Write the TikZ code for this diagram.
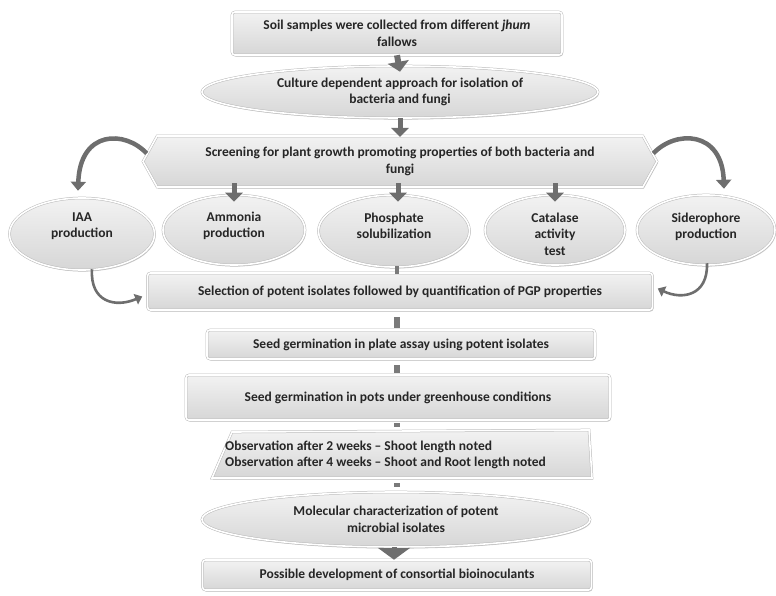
\documentclass[tikz,border=0pt]{standalone}
\usepackage{fontspec}
\setmainfont{Carlito}
\usetikzlibrary{shapes.geometric,shapes.symbols,arrows.meta,shadows}
\definecolor{arr}{HTML}{6E6E6E}
\definecolor{stubc}{HTML}{7A7A7A}
\definecolor{txt}{HTML}{262626}
\begin{document}
\begin{tikzpicture}[x=1pt,y=-1pt,
  every node/.style={font=\bfseries\fontsize{13.5}{16.5}\selectfont, text=txt, align=center, inner sep=0pt},
  shade/.style={top color=gray!10, bottom color=gray!32, draw=gray!55, double=white, double distance=1.6pt, line width=0.5pt,
    drop shadow={shadow xshift=1pt, shadow yshift=-1.6pt, fill=gray!55, opacity=0.7}},
  boxst/.style={shade, rectangle, rounded corners=3pt},
  ellst/.style={shade, ellipse},
  bigarr/.style={draw=arr, line width=6pt, -{Triangle[length=10pt,width=21pt]}},
  smallarr/.style={draw=arr, line width=5pt, -{Triangle[length=9pt,width=17pt]}},
  curvarr/.style={draw=arr, line width=4.5pt, -{Triangle[length=9pt,width=15pt]}},
  curvarrb/.style={draw=arr, line width=2.6pt, -{Triangle[length=7pt,width=11pt]}},
  stub/.style={draw=stubc, line width=6pt}]
\useasboundingbox (0,0) rectangle (776,596);

% top part
\node[boxst, minimum width=330pt, minimum height=43pt] (soil) at (397,33.5)
  {Soil samples were collected from different \textit{jhum}\\fallows};
\node[ellst, minimum width=396pt, minimum height=52pt] (culture) at (400,92)
  {Culture dependent approach for isolation of\\bacteria and fungi};
\node[shade, signal, signal to=west and east, signal pointer angle=122,
  minimum width=514pt, minimum height=51pt] (screen) at (400,161.5)
  {Screening for plant growth promoting properties of both bacteria and\\fungi};

% ellipses row
\node[ellst, minimum width=145pt, minimum height=72pt] (iaa) at (82,234) {};
\node (iaat) at ([yshift=8pt]iaa.center) {IAA\\production};
\node[ellst, minimum width=142pt, minimum height=70pt] (ammonia) at (234,230) {};
\node (ammoniat) at ([yshift=4pt]ammonia.center) {Ammonia\\production};
\node[ellst, minimum width=151pt, minimum height=72pt] (phos) at (394,231) {};
\node (phost) at ([yshift=5pt]phos.center) {Phosphate\\solubilization};
\node[ellst, minimum width=140pt, minimum height=70pt] (cat) at (555,230) {};
\node (catt) at ([yshift=-4pt]cat.center) {Catalase\\activity\\test};
\node[ellst, minimum width=138pt, minimum height=70pt] (sid) at (706,230) {};
\node (sidt) at ([yshift=3pt]sid.center) {Siderophore\\production};

% lower part
\node[boxst, minimum width=505pt, minimum height=37pt] (sel) at (400,291.5)
  {Selection of potent isolates followed by quantification of PGP properties};
\node[boxst, minimum width=388pt, minimum height=29pt] (plate) at (401,344.5)
  {Seed germination in plate assay using potent isolates};
\node[boxst, minimum width=424pt, minimum height=45pt] (pots) at (398,397.5)
  {Seed germination in pots under greenhouse conditions};

% observation (slanted box)
\filldraw[shade] (232,432) -- (589,430) -- (592,478) -- (212,478) -- cycle;
\node[align=left, anchor=west] (obs) at (225,455)
  {Observation after 2 weeks -- Shoot length noted\\Observation after 4 weeks -- Shoot and Root length noted};

\node[ellst, minimum width=388pt, minimum height=55pt] (mol) at (396,519.5)
  {Molecular characterization of potent\\microbial isolates};
\node[boxst, minimum width=389pt, minimum height=30pt] (final) at (397,575)
  {Possible development of consortial bioinoculants};

% connectors
\draw[bigarr] (soil.south) -- ([yshift=-6pt]culture.north);
\draw[smallarr] (culture.south) -- (screen.south |- 0,137);
\draw[smallarr] (screen.south -| ammonia.north) ++(0,-4) -- ([yshift=-7pt]ammonia.north);
\draw[smallarr] (screen.south -| 398,0) ++(0,-4) -- ([yshift=-7pt]phos.north -| 398,0);
\draw[smallarr] (screen.south -| cat.north) ++(0,-4) -- ([yshift=-7pt]cat.north);

\draw[curvarr] ([xshift=4pt,yshift=8pt]screen.west) .. controls (125,130) and (80,130) .. ([xshift=-4pt,yshift=7pt]iaa.north);
\draw[curvarr] ([xshift=-4pt,yshift=8pt]screen.east) .. controls (675,130) and (722,130) .. ([xshift=18pt,yshift=6pt]sid.north);

\draw[curvarrb] ([xshift=10pt,yshift=1pt]iaa.south) .. controls (90,302) and (115,308) .. ([xshift=-5pt,yshift=-5pt]sel.west);
\draw[curvarrb] ([xshift=1pt,yshift=2pt]sid.south) .. controls (708,296) and (682,300) .. ([xshift=5pt,yshift=3pt]sel.east);

\draw[draw=stubc, line width=4pt] ([yshift=1pt]phos.south -| 397,0) -- ([yshift=-1pt]sel.north -| 397,0);
\draw[stub, shorten <=7pt, shorten >=2pt] (sel.south -| 397,0) -- (plate.north -| 397,0);
\draw[stub, shorten <=6pt, shorten >=2pt] (plate.south -| 397,0) -- (pots.north -| 397,0);
\draw[stub, shorten <=3pt, shorten >=4pt] (pots.south -| 397,0) -- (397,431);
\draw[stub, shorten <=5pt, shorten >=5pt] (397,478) -- (mol.north -| 397,0);
\draw[draw=arr, line width=5pt, -{Triangle[length=12pt,width=32pt]}] (mol.south -| 394,0) -- (final.north -| 394,0);
\end{tikzpicture}
\end{document}
